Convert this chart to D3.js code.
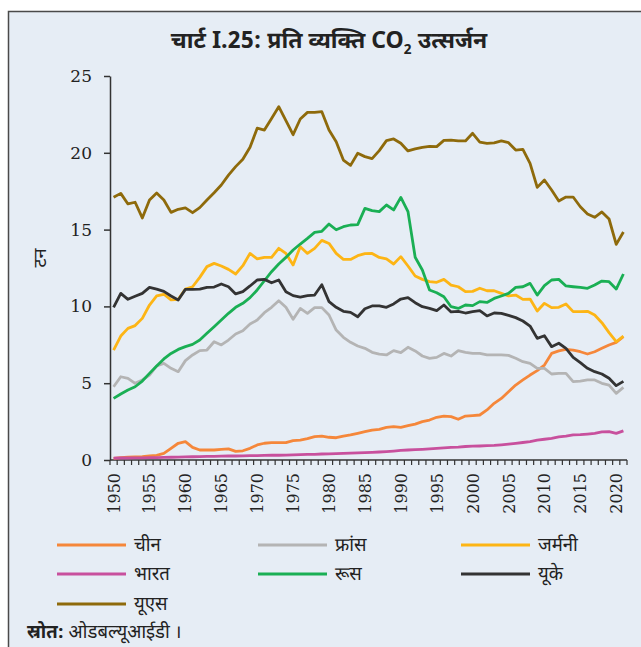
<!DOCTYPE html>
<html>
<head>
<meta charset="utf-8">
<script src="https://cdn.jsdelivr.net/npm/d3@7"></script>
<style>
  html, body { margin: 0; padding: 0; background: #fff; }
  svg { display: block; }
  .dev { font-family: "Noto Sans Devanagari", "Lohit Devanagari", "Noto Sans", sans-serif; fill: #222; }
  .num { font-family: "DejaVu Serif", "Liberation Serif", serif; fill: #222; }
</style>
</head>
<body>
<div id="chart"></div>
<script>
// years on the x axis
const years = [
  1950, 1951, 1952, 1953, 1954, 1955, 1956, 1957, 1958, 1959,
  1960, 1961, 1962, 1963, 1964, 1965, 1966, 1967, 1968, 1969,
  1970, 1971, 1972, 1973, 1974, 1975, 1976, 1977, 1978, 1979,
  1980, 1981, 1982, 1983, 1984, 1985, 1986, 1987, 1988, 1989,
  1990, 1991, 1992, 1993, 1994, 1995, 1996, 1997, 1998, 1999,
  2000, 2001, 2002, 2003, 2004, 2005, 2006, 2007, 2008, 2009,
  2010, 2011, 2012, 2013, 2014, 2015, 2016, 2017, 2018, 2019,
  2020, 2021
];
const yTicks = [0, 5, 10, 15, 20, 25];

// tonnes per person
const china = [
  0.11, 0.15, 0.18, 0.2, 0.22, 0.26, 0.3, 0.43, 0.76, 1.09,
  1.19, 0.82, 0.65, 0.65, 0.65, 0.69, 0.72, 0.56, 0.6, 0.76,
  0.98, 1.09, 1.13, 1.13, 1.13, 1.26, 1.3, 1.39, 1.52, 1.56,
  1.48, 1.45, 1.56, 1.63, 1.74, 1.84, 1.95, 2.0, 2.13, 2.17,
  2.13, 2.24, 2.34, 2.5, 2.6, 2.78, 2.86, 2.82, 2.65, 2.86,
  2.89, 2.93, 3.26, 3.69, 4.01, 4.45, 4.88, 5.21, 5.53, 5.82,
  6.18, 6.94, 7.1, 7.2, 7.16, 7.05, 6.9, 7.05, 7.27, 7.49,
  7.66, 8.03
];
const france = [
  4.77, 5.42, 5.32, 4.99, 5.21, 5.53, 6.12, 6.29, 5.97, 5.75,
  6.47, 6.84, 7.12, 7.16, 7.7, 7.49, 7.81, 8.2, 8.42, 8.85,
  9.11, 9.59, 9.94, 10.37, 9.94, 9.16, 9.87, 9.55, 9.92, 9.92,
  9.44, 8.46, 7.99, 7.66, 7.42, 7.27, 7.01, 6.9, 6.84, 7.12,
  6.99, 7.34, 7.1, 6.77, 6.62, 6.68, 6.94, 6.77, 7.12, 7.01,
  6.94, 6.94, 6.84, 6.84, 6.84, 6.81, 6.62, 6.4, 6.29, 5.97,
  5.97, 5.6, 5.64, 5.64, 5.1, 5.14, 5.21, 5.21, 4.99, 4.88,
  4.34, 4.73
];
const germany = [
  7.16, 8.07, 8.57, 8.75, 9.22, 10.09, 10.68, 10.79, 10.42, 10.46,
  11.13, 11.28, 11.89, 12.59, 12.8, 12.63, 12.41, 12.11, 12.65, 13.45,
  13.09, 13.19, 13.19, 13.78, 13.45, 12.7, 13.89, 13.45, 13.78, 14.3,
  14.1, 13.45, 13.06, 13.06, 13.3, 13.43, 13.45, 13.19, 13.09, 12.76,
  13.24, 12.63, 11.98, 11.76, 11.61, 11.57, 11.76, 11.39, 11.28, 10.96,
  10.98, 11.18, 11.02, 11.02, 10.85, 10.68, 10.74, 10.46, 10.48, 9.7,
  10.2, 9.92, 9.94, 10.16, 9.66, 9.66, 9.68, 9.44, 8.94, 8.29,
  7.7, 8.07
];
const india = [
  0.12, 0.13, 0.13, 0.14, 0.14, 0.15, 0.16, 0.17, 0.18, 0.19,
  0.2, 0.21, 0.22, 0.23, 0.24, 0.25, 0.26, 0.26, 0.27, 0.28,
  0.29, 0.3, 0.31, 0.31, 0.32, 0.34, 0.35, 0.36, 0.37, 0.39,
  0.4, 0.42, 0.43, 0.45, 0.46, 0.48, 0.5, 0.52, 0.55, 0.58,
  0.62, 0.65, 0.67, 0.69, 0.72, 0.76, 0.79, 0.82, 0.84, 0.88,
  0.9, 0.91, 0.93, 0.95, 0.99, 1.03, 1.08, 1.14, 1.2, 1.3,
  1.35, 1.41, 1.5, 1.55, 1.63, 1.65, 1.69, 1.74, 1.83, 1.85,
  1.73, 1.9
];
const russia = [
  4.01, 4.3, 4.56, 4.77, 5.14, 5.64, 6.12, 6.58, 6.94, 7.2,
  7.38, 7.53, 7.81, 8.25, 8.68, 9.11, 9.55, 9.94, 10.2, 10.57,
  11.07, 11.67, 12.26, 12.76, 13.19, 13.67, 14.06, 14.43, 14.82, 14.89,
  15.36, 14.99, 15.19, 15.3, 15.32, 16.38, 16.23, 16.17, 16.6, 16.28,
  17.1, 16.17, 13.2, 12.37, 11.07, 10.89, 10.63, 9.98, 9.87, 10.09,
  10.05, 10.31, 10.26, 10.52, 10.68, 10.85, 11.24, 11.28, 11.5, 10.74,
  11.35, 11.72, 11.76, 11.33, 11.28, 11.24, 11.18, 11.39, 11.65, 11.61,
  11.13, 12.11
];
const uk = [
  9.94, 10.85, 10.46, 10.66, 10.85, 11.24, 11.13, 10.98, 10.68, 10.42,
  11.11, 11.11, 11.13, 11.24, 11.26, 11.46, 11.28, 10.81, 10.96, 11.33,
  11.72, 11.76, 11.54, 11.72, 10.96, 10.7, 10.61, 10.7, 10.74, 11.41,
  10.31, 9.94, 9.68, 9.61, 9.33, 9.85, 10.03, 10.03, 9.94, 10.16,
  10.48, 10.57, 10.24, 9.98, 9.87, 9.72, 10.09, 9.64, 9.68, 9.57,
  9.66, 9.72, 9.38, 9.57, 9.55, 9.42, 9.27, 9.05, 8.72, 7.92,
  8.09, 7.38, 7.6, 7.27, 6.68, 6.34, 5.97, 5.75, 5.6, 5.32,
  4.84, 5.12
];
const us = [
  17.1, 17.36, 16.67, 16.78, 15.76, 16.93, 17.38, 16.93, 16.12, 16.32,
  16.41, 16.1, 16.43, 16.93, 17.4, 17.9, 18.55, 19.1, 19.58, 20.36,
  21.6, 21.48, 22.24, 23.0, 22.09, 21.18, 22.2, 22.63, 22.63, 22.68,
  21.48, 20.72, 19.53, 19.18, 19.97, 19.75, 19.62, 20.14, 20.79, 20.9,
  20.62, 20.12, 20.25, 20.36, 20.42, 20.4, 20.81, 20.83, 20.77, 20.77,
  21.27, 20.7, 20.62, 20.64, 20.77, 20.66, 20.18, 20.22, 19.31, 17.75,
  18.23, 17.58, 16.86, 17.12, 17.12, 16.49, 16.02, 15.8, 16.15, 15.69,
  14.04, 14.84
];

const seriesNames = ['चीन', 'फ्रांस', 'जर्मनी', 'भारत', 'रूस', 'यूके', 'यूएस'];
const seriesValues = [china, france, germany, india, russia, uk, us];
const seriesColors = ['#f5873a', '#b4b4b4', '#fdb515', '#c8509d', '#1aaf54', '#333333', '#8e6a0b'];

const W = 641, H = 647;
const plot = { left: 110, right: 627, top: 76, bottom: 460 };

const svg = d3.select('#chart').append('svg')
  .attr('width', W)
  .attr('height', H);

// panel background + frame (right and bottom run off the picture)
svg.append('rect')
  .attr('x', 8.5).attr('y', 11.5)
  .attr('width', W + 20).attr('height', H + 20)
  .attr('fill', '#e6edf5')
  .attr('stroke', '#4a4a4a')
  .attr('stroke-width', 1.5);

// title
const title = svg.append('text')
  .attr('class', 'dev')
  .attr('x', 329).attr('y', 48)
  .attr('text-anchor', 'middle')
  .attr('font-size', 23)
  .attr('font-weight', 'bold');
title.append('tspan').text('चार्ट I.25: प्रति व्यक्ति CO');
title.append('tspan').attr('dy', 6).attr('font-size', 14).text('2');
title.append('tspan').attr('dy', -6).text(' उत्सर्जन');

const x = d3.scaleBand()
  .domain(years)
  .range([plot.left, plot.right]);
const cx = d => x(d) + x.bandwidth() / 2;

const y = d3.scaleLinear()
  .domain([0, 25])
  .range([plot.bottom, plot.top]);

// y axis
const yAxis = svg.append('g')
  .attr('transform', `translate(${plot.left},0)`)
  .call(d3.axisLeft(y).tickValues(yTicks).tickSize(6).tickPadding(12).tickSizeOuter(0));
yAxis.select('.domain').attr('stroke', '#333').attr('stroke-width', 1.5);
yAxis.selectAll('.tick line').attr('stroke', '#333').attr('stroke-width', 1.5);
yAxis.selectAll('.tick text')
  .attr('class', 'num')
  .attr('font-size', 17)
  .attr('fill', '#222');

svg.append('text')
  .attr('class', 'dev')
  .attr('transform', 'translate(46,258) rotate(-90)')
  .attr('text-anchor', 'middle')
  .attr('font-size', 18)
  .text('टन');

// x axis: ticks between categories, labels every 5 years
const xg = svg.append('g');
xg.append('line')
  .attr('x1', plot.left).attr('x2', plot.right)
  .attr('y1', plot.bottom).attr('y2', plot.bottom)
  .attr('stroke', '#333').attr('stroke-width', 1.5);
xg.selectAll('.xtick')
  .data(years.concat([null]))
  .join('line')
  .attr('class', 'xtick')
  .attr('x1', d => d === null ? plot.right : x(d))
  .attr('x2', d => d === null ? plot.right : x(d))
  .attr('y1', plot.bottom).attr('y2', plot.bottom + 5)
  .attr('stroke', '#333').attr('stroke-width', 1.2);
xg.selectAll('.xlabel')
  .data(years.filter(d => d % 5 === 0))
  .join('text')
  .attr('class', 'num')
  .attr('font-size', 16)
  .attr('text-anchor', 'end')
  .attr('transform', d => `translate(${cx(d) + 6},${plot.bottom + 13}) rotate(-90)`)
  .text(d => d);

// lines
const line = d3.line()
  .x((d, i) => cx(years[i]))
  .y(d => y(d));

svg.append('g')
  .selectAll('path')
  .data(seriesValues)
  .join('path')
  .attr('fill', 'none')
  .attr('stroke', (d, i) => seriesColors[i])
  .attr('stroke-width', 2.8)
  .attr('stroke-linejoin', 'round')
  .attr('d', line);

// legend, three columns
const legCols = [57, 258, 461];
const legRows = [545, 574, 604];
const leg = svg.append('g')
  .selectAll('g')
  .data(seriesNames)
  .join('g')
  .attr('transform', (d, i) => `translate(${legCols[i % 3]},${legRows[Math.floor(i / 3)]})`);
leg.append('line')
  .attr('x1', 0).attr('x2', 69)
  .attr('stroke', (d, i) => seriesColors[i])
  .attr('stroke-width', 2.8);
leg.append('text')
  .attr('class', 'dev')
  .attr('x', 77).attr('y', 6)
  .attr('font-size', 18.5)
  .text(d => d);

// source
const src = svg.append('text')
  .attr('class', 'dev')
  .attr('x', 27).attr('y', 638)
  .attr('font-size', 18.5);
src.append('tspan').attr('font-weight', 'bold').text('स्रोत:');
src.append('tspan').text(' ओडबल्यूआईडी ।');
</script>
</body>
</html>
